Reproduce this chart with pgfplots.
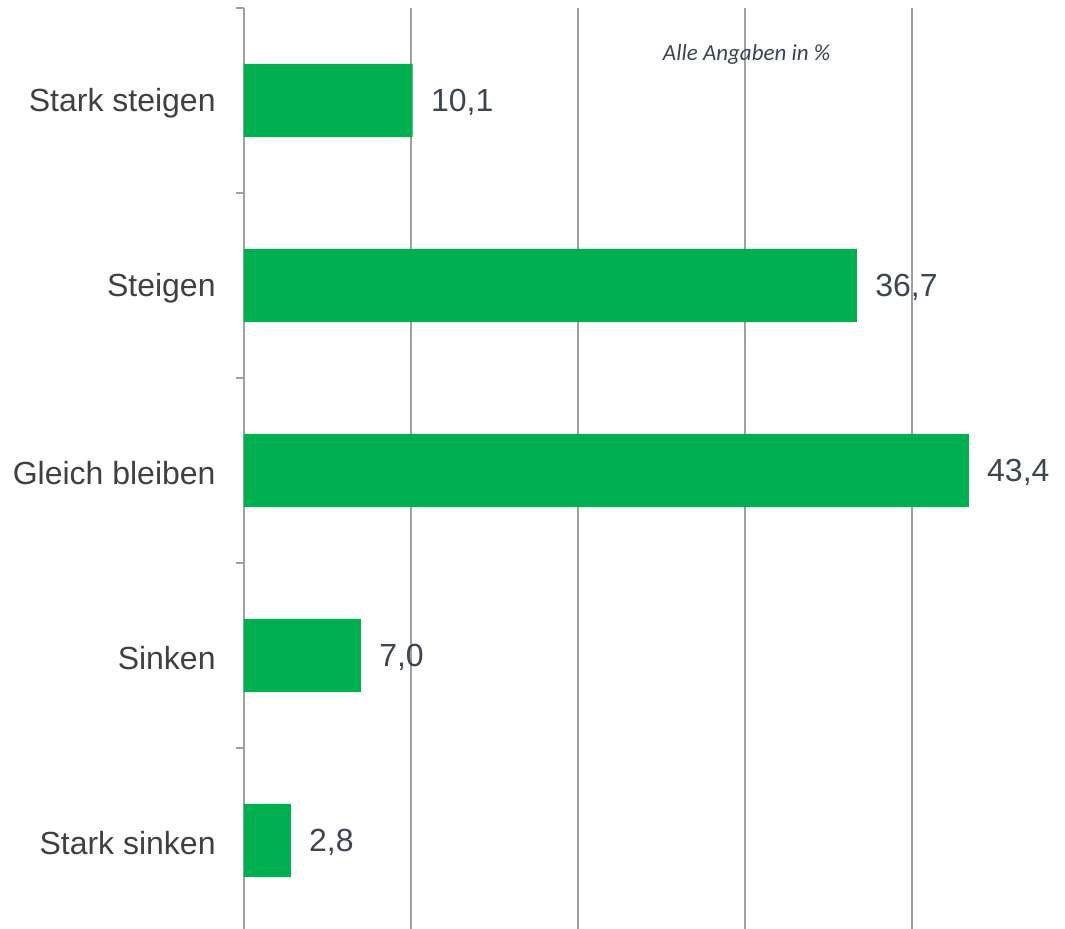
\documentclass[border=0pt]{standalone}
\usepackage{pgfplots}
\pgfplotsset{compat=1.18}
\usepackage{fontspec}
\setmainfont{Liberation Sans}
\newfontfamily\notefont{Carlito}
\definecolor{barGreen}{HTML}{00AF50}
\definecolor{txtGray}{HTML}{3C4650}
\definecolor{lineGray}{HTML}{A0A0A0}
\begin{document}
\begin{tikzpicture}
\begin{axis}[
    name=main,
    at={(0,0)}, anchor=south west,
    scale only axis,
    width=400.8pt, height=462.5pt,
    xmin=0, xmax=48,
    ymin=0.5, ymax=5.5,
    y dir=reverse,
    axis x line=bottom,
    axis y line=left,
    x axis line style={draw=none},
    y axis line style={draw=lineGray, line width=0.75pt, -},
    xtick={10,20,30,40},
    xticklabels={},
    x tick style={draw=none},
    xmajorgrids,
    grid style={draw=lineGray, line width=0.75pt},
    ytick={1,2,3,4,5},
    yticklabels={Stark steigen,Steigen,Gleich bleiben,Sinken,Stark sinken},
    minor ytick={0.5,1.5,2.5,3.5,4.5,5.5},
    major tick length=0pt,
    minor tick length=4pt,
    ytick align=outside,
    y tick style={draw=lineGray, line width=0.75pt},
    y tick label style={font=\fontsize{16}{18}\selectfont, text=black!75, inner sep=0pt, anchor=east, xshift=-14pt, yshift=-1.5pt},
    xbar,
    bar width=0.395,
    nodes near coords,
    every node near coord/.append style={font=\fontsize{16}{18}\selectfont, text=txtGray, anchor=west, inner sep=0pt, xshift=9pt, yshift=-1pt,
        /pgf/number format/use comma, /pgf/number format/fixed, /pgf/number format/fixed zerofill,
        /pgf/number format/precision=1, /pgf/number format/assume math mode=true},
]
\addplot[fill=barGreen, draw=none] coordinates {
    (10.1,1) (36.7,2) (43.4,3) (7.0,4) (2.8,5)
};
\node[font=\notefont\itshape\fontsize{11.5}{13}\selectfont, text=txtGray] at (axis cs:30.1,0.75) {Alle Angaben in \%};
\end{axis}
\pgfresetboundingbox
\path[use as bounding box] (-122pt,2.5pt) rectangle (410.5pt,466.5pt);
\end{tikzpicture}
\end{document}
